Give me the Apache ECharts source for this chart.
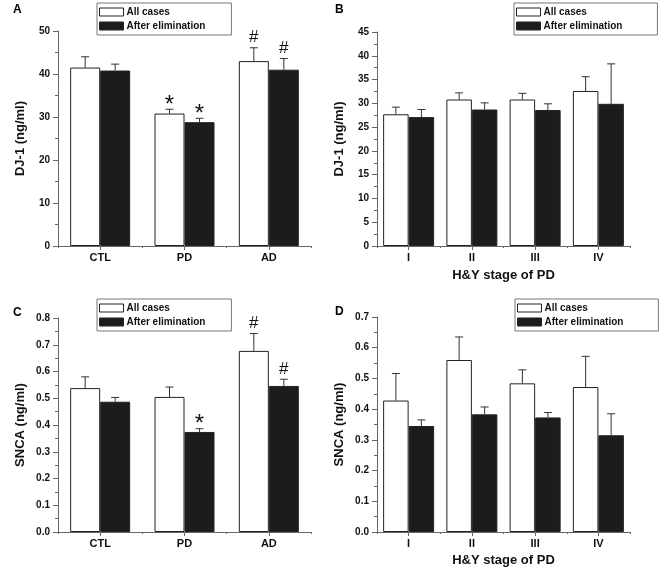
<!DOCTYPE html>
<html>
<head>
<meta charset="utf-8">
<script src="https://cdn.jsdelivr.net/npm/echarts@6/dist/echarts.min.js"></script>
<style>
html,body{margin:0;padding:0;background:#fff;}
#chart{width:661px;height:572px;}
</style>
</head>
<body>
<div id="chart"></div>
<script>
// ---- data ----
const groupCats = ['CTL', 'PD', 'AD'];
const stageCats = ['I', 'II', 'III', 'IV'];
const seriesNames = ['All cases', 'After elimination'];

// Panel A: DJ-1 by group
const dj1GroupAll = [41.5, 30.8, 43.0];
const dj1GroupAllSE = [2.5, 1.0, 3.1];
const dj1GroupElim = [40.8, 28.8, 41.0];
const dj1GroupElimSE = [1.5, 0.9, 2.6];
const dj1GroupAllSig = ['', '*', '#'];
const dj1GroupElimSig = ['', '*', '#'];
const dj1GroupTicks = [0, 10, 20, 30, 40, 50];

// Panel B: DJ-1 by H&Y stage
const dj1StageAll = [27.7, 30.8, 30.8, 32.6];
const dj1StageAllSE = [1.5, 1.4, 1.3, 3.0];
const dj1StageElim = [27.1, 28.7, 28.6, 29.9];
const dj1StageElimSE = [1.6, 1.4, 1.3, 8.4];
const dj1StageTicks = [0, 5, 10, 15, 20, 25, 30, 35, 40, 45];

// Panel C: SNCA by group
const sncaGroupAll = [0.538, 0.505, 0.677];
const sncaGroupAllSE = [0.042, 0.037, 0.065];
const sncaGroupElim = [0.487, 0.374, 0.546];
const sncaGroupElimSE = [0.016, 0.012, 0.025];
const sncaGroupAllSig = ['', '', '#'];
const sncaGroupElimSig = ['', '*', '#'];
const sncaGroupTicks = [0.0, 0.1, 0.2, 0.3, 0.4, 0.5, 0.6, 0.7, 0.8];

// Panel D: SNCA by H&Y stage
const sncaStageAll = [0.428, 0.560, 0.484, 0.472];
const sncaStageAllSE = [0.088, 0.075, 0.044, 0.100];
const sncaStageElim = [0.345, 0.383, 0.373, 0.315];
const sncaStageElimSE = [0.020, 0.024, 0.016, 0.070];
const sncaStageTicks = [0.0, 0.1, 0.2, 0.3, 0.4, 0.5, 0.6, 0.7];

// ---- styling ----
const FONT = 'Liberation Sans, Arial, sans-serif';
const AXIS_COLOR = '#666';
const TEXT_COLOR = '#111';

const panels = [
  {label: 'A', cats: groupCats, all: dj1GroupAll, allSE: dj1GroupAllSE, elim: dj1GroupElim, elimSE: dj1GroupElimSE,
   allSig: dj1GroupAllSig, elimSig: dj1GroupElimSig, ticks: dj1GroupTicks, yName: 'DJ-1 (ng/ml)', xName: '',
   grid: {left: 58, right: 350, top: 31, bottom: 326}, barW: 30, dec: 0,
   legend: {left: 97, top: 3}, labelPos: [13, 4], nameGapX: 23},
  {label: 'B', cats: stageCats, all: dj1StageAll, allSE: dj1StageAllSE, elim: dj1StageElim, elimSE: dj1StageElimSE,
   allSig: null, elimSig: null, ticks: dj1StageTicks, yName: 'DJ-1 (ng/ml)', xName: 'H&Y stage of PD',
   grid: {left: 377, right: 31, top: 32, bottom: 326}, barW: 25.5, dec: 0,
   legend: {left: 514, top: 3}, labelPos: [335, 4], nameGapX: 23},
  {label: 'C', cats: groupCats, all: sncaGroupAll, allSE: sncaGroupAllSE, elim: sncaGroupElim, elimSE: sncaGroupElimSE,
   allSig: sncaGroupAllSig, elimSig: sncaGroupElimSig, ticks: sncaGroupTicks, yName: 'SNCA (ng/ml)', xName: '',
   grid: {left: 58, right: 350, top: 318, bottom: 40}, barW: 30, dec: 1,
   legend: {left: 97, top: 299}, labelPos: [13, 307], nameGapX: 23},
  {label: 'D', cats: stageCats, all: sncaStageAll, allSE: sncaStageAllSE, elim: sncaStageElim, elimSE: sncaStageElimSE,
   allSig: null, elimSig: null, ticks: sncaStageTicks, yName: 'SNCA (ng/ml)', xName: 'H&Y stage of PD',
   grid: {left: 377, right: 31, top: 317, bottom: 40}, barW: 25.5, dec: 1,
   legend: {left: 515, top: 299}, labelPos: [335, 306], nameGapX: 22}
];

const grids = [], xAxes = [], yAxes = [], series = [], legends = [], graphics = [];

function errSeries(xIdx, yIdx, vals, ses, sigs, side, barW) {
  return {
    type: 'custom', xAxisIndex: xIdx, yAxisIndex: yIdx, z: 5, silent: true,
    data: vals.map((v, i) => [i, v, ses[i]]),
    renderItem: function (params, api) {
      const i = api.value(0), v = api.value(1), se = api.value(2);
      const base = api.coord([i, v]);
      const top = api.coord([i, v + se]);
      const x = base[0] + side * barW / 2;
      const st = {stroke: '#333', lineWidth: 1};
      const children = [
        {type: 'line', shape: {x1: x, y1: base[1], x2: x, y2: top[1]}, style: st},
        {type: 'line', shape: {x1: x - 4, y1: top[1], x2: x + 4, y2: top[1]}, style: st}
      ];
      const s = sigs ? sigs[params.dataIndex] : '';
      if (s) {
        const isStar = s === '*';
        children.push({type: 'text', style: {
          text: s, x: x, y: top[1] - (isStar ? 4 : 10),
          textAlign: 'center', textVerticalAlign: 'middle',
          font: (isStar ? '24px ' : '17px ') + FONT, fill: '#111'
        }});
      }
      return {type: 'group', children: children};
    }
  };
}

panels.forEach((p, gi) => {
  grids.push({left: p.grid.left, right: p.grid.right, top: p.grid.top, bottom: p.grid.bottom, containLabel: false});
  const mainX = xAxes.length;
  xAxes.push({
    type: 'category', gridIndex: gi, data: p.cats, position: 'bottom',
    axisLine: {show: true, lineStyle: {color: AXIS_COLOR, width: 1}},
    axisTick: {show: true, alignWithLabel: true, length: 4, lineStyle: {color: AXIS_COLOR}},
    axisLabel: {show: true, fontSize: 11, fontWeight: 'bold', fontFamily: FONT, color: TEXT_COLOR, margin: 6},
    splitLine: {show: false},
    name: p.xName, nameLocation: 'middle', nameGap: p.nameGapX,
    nameTextStyle: {fontSize: 13, fontWeight: 'bold', fontFamily: FONT, color: TEXT_COLOR}
  });
  xAxes.push({
    type: 'category', gridIndex: gi, data: p.cats, position: 'bottom',
    axisLine: {show: false},
    axisTick: {show: true, alignWithLabel: false, length: 2, lineStyle: {color: AXIS_COLOR}},
    axisLabel: {show: false}, splitLine: {show: false}
  });
  const yi = yAxes.length;
  const t = p.ticks;
  yAxes.push({
    type: 'value', gridIndex: gi, min: t[0], max: t[t.length - 1], interval: t[1] - t[0],
    axisLine: {show: true, lineStyle: {color: AXIS_COLOR, width: 1}},
    axisTick: {show: true, length: 5, lineStyle: {color: AXIS_COLOR}},
    minorTick: {show: true, splitNumber: 2, length: 3, lineStyle: {color: AXIS_COLOR}},
    splitLine: {show: false},
    axisLabel: {fontSize: 10, fontWeight: 'bold', fontFamily: FONT, color: TEXT_COLOR, margin: 8,
      formatter: v => v.toFixed(p.dec)},
    name: p.yName, nameLocation: 'middle', nameGap: 31,
    nameTextStyle: {fontSize: 13, fontWeight: 'bold', fontFamily: FONT, color: TEXT_COLOR}
  });
  series.push({
    name: seriesNames[0], type: 'bar', xAxisIndex: mainX, yAxisIndex: yi, data: p.all,
    barWidth: p.barW, barGap: '0%',
    itemStyle: {color: '#ffffff', borderColor: '#222', borderWidth: 1}
  });
  series.push({
    name: seriesNames[1], type: 'bar', xAxisIndex: mainX, yAxisIndex: yi, data: p.elim,
    barWidth: p.barW, barGap: '0%',
    itemStyle: {color: '#1c1c1c', borderColor: '#222', borderWidth: 1}
  });
  series.push(errSeries(mainX, yi, p.all, p.allSE, p.allSig, -1, p.barW));
  series.push(errSeries(mainX, yi, p.elim, p.elimSE, p.elimSig, 1, p.barW));
  legends.push({
    data: seriesNames, orient: 'vertical', left: p.legend.left, top: p.legend.top,
    icon: 'rect', itemWidth: 24, itemHeight: 8, itemGap: 2,
    padding: [3, p.label === 'A' || p.label === 'C' ? 26 : 35, 3, 2],
    borderColor: '#777', borderWidth: 1, selectedMode: false,
    itemStyle: {borderWidth: 1, borderColor: '#222'},
    textStyle: {fontSize: 10, fontWeight: 'bold', fontFamily: FONT, color: TEXT_COLOR, padding: [0, 0, 0, -2], lineHeight: 12}
  });
  graphics.push({
    type: 'text', left: p.labelPos[0], top: p.labelPos[1],
    style: {text: p.label, font: 'bold 12px ' + FONT, fill: '#000'}
  });
});

const chart = echarts.init(document.getElementById('chart'), null, {renderer: 'canvas'});
chart.setOption({
  animation: false,
  backgroundColor: '#fff',
  grid: grids, xAxis: xAxes, yAxis: yAxes, series: series, legend: legends, graphic: graphics
});
</script>
</body>
</html>
